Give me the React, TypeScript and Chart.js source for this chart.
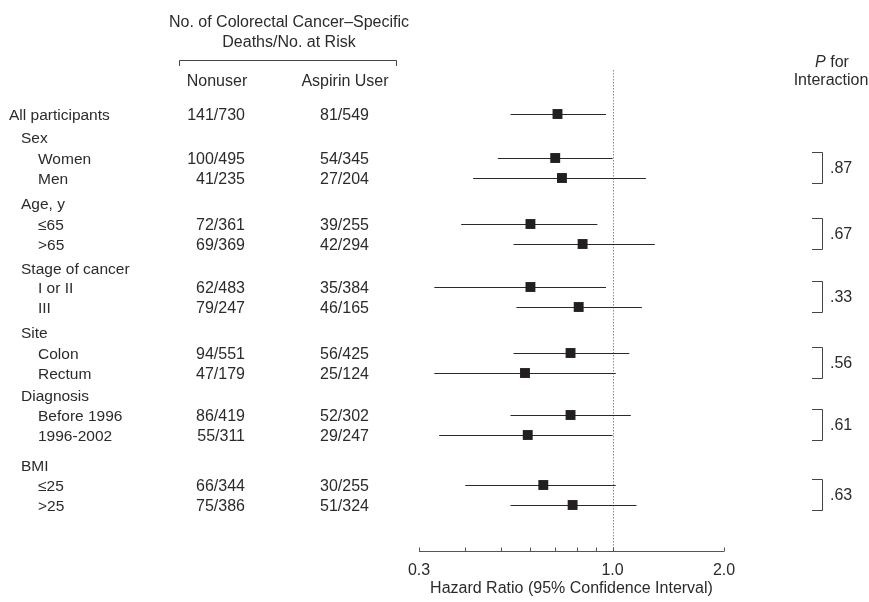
import React, { useEffect, useRef } from "react";
import { Chart, registerables } from "chart.js";

Chart.register(...registerables);

const rowLabels = [
  "All participants", "Sex", "Women", "Men", "Age, y", "≤65", ">65",
  "Stage of cancer", "I or II", "III", "Site", "Colon", "Rectum",
  "Diagnosis", "Before 1996", "1996-2002", "BMI", "≤25", ">25",
];
const rowLevels = [0, 1, 2, 2, 1, 2, 2, 1, 2, 2, 1, 2, 2, 1, 2, 2, 1, 2, 2];
const rowAdvance = [0, 1.15, 1.05, 1, 1.25, 1.05, 1, 1.2, 0.95, 1, 1.25, 1.05, 1, 1.1, 1, 1, 1.5, 1, 1];
const nonuserCounts = [
  "141/730", "", "100/495", "41/235", "", "72/361", "69/369", "", "62/483", "79/247",
  "", "94/551", "47/179", "", "86/419", "55/311", "", "66/344", "75/386",
];
const aspirinCounts = [
  "81/549", "", "54/345", "27/204", "", "39/255", "42/294", "", "35/384", "46/165",
  "", "56/425", "25/124", "", "52/302", "29/247", "", "30/255", "51/324",
];
const hazardRatio = [0.71, null, 0.70, 0.73, null, 0.60, 0.83, null, 0.60, 0.81, null, 0.77, 0.58, null, 0.77, 0.59, null, 0.65, 0.78];
const ciLower = [0.53, null, 0.49, 0.42, null, 0.39, 0.54, null, 0.33, 0.55, null, 0.54, 0.33, null, 0.53, 0.34, null, 0.40, 0.53];
const ciUpper = [0.96, null, 1.0, 1.23, null, 0.91, 1.30, null, 0.96, 1.20, null, 1.11, 1.02, null, 1.12, 1.0, null, 1.02, 1.16];
const interactionRows = [[2, 3], [5, 6], [8, 9], [11, 12], [14, 15], [17, 18]];
const interactionP = [".87", ".67", ".33", ".56", ".61", ".63"];
const tickValues = [0.3, 0.4, 0.5, 0.6, 0.7, 0.8, 0.9, 1.0, 2.0];
const tickLabels = ["0.3", "", "", "", "", "", "", "1.0", "2.0"];

const rowY: number[] = [];
rowAdvance.reduce((acc, v) => {
  const y = acc + v;
  rowY.push(y);
  return y;
}, 0);

const FONT = '"Liberation Sans", Arial, Helvetica, sans-serif';
const TEXT = "#2b2b2b";
const DY = 1.5; // visual centring of canvas text

const forestPlugin = {
  id: "forest",
  beforeDatasetsDraw(chart: any) {
    const { ctx, scales, chartArea } = chart;
    const xs = scales.x;
    const ys = scales.y;
    ctx.save();
    const x1 = Math.round(xs.getPixelForValue(1.0)) + 0.5;
    ctx.strokeStyle = "#8a8a8a";
    ctx.lineWidth = 1;
    ctx.setLineDash([1.5, 1.5]);
    ctx.beginPath();
    ctx.moveTo(x1, chartArea.top);
    ctx.lineTo(x1, chartArea.bottom);
    ctx.stroke();
    ctx.setLineDash([]);
    ctx.strokeStyle = "#2a2a2a";
    ctx.lineWidth = 1.2;
    for (let i = 0; i < rowLabels.length; i++) {
      if (ciLower[i] == null) continue;
      const y = Math.round(ys.getPixelForValue(rowY[i])) + 0.5;
      ctx.beginPath();
      ctx.moveTo(xs.getPixelForValue(ciLower[i]), y);
      ctx.lineTo(xs.getPixelForValue(ciUpper[i]), y);
      ctx.stroke();
    }
    ctx.restore();
  },
  afterDraw(chart: any) {
    const { ctx, scales, chartArea } = chart;
    const xs = scales.x;
    const ys = scales.y;
    ctx.save();
    ctx.fillStyle = TEXT;
    ctx.textBaseline = "middle";
    const indent = [9, 21, 38];
    for (let i = 0; i < rowLabels.length; i++) {
      const y = ys.getPixelForValue(rowY[i]) + DY;
      ctx.textAlign = "left";
      ctx.font = `15.5px ${FONT}`;
      ctx.fillText(rowLabels[i], indent[rowLevels[i]], y);
      ctx.textAlign = "right";
      ctx.font = `16px ${FONT}`;
      if (nonuserCounts[i]) ctx.fillText(nonuserCounts[i], 245, y);
      if (aspirinCounts[i]) ctx.fillText(aspirinCounts[i], 369, y);
    }
    ctx.font = `16px ${FONT}`;
    ctx.textAlign = "center";
    ctx.fillText("No. of Colorectal Cancer–Specific", 289, 21 + DY);
    ctx.fillText("Deaths/No. at Risk", 289, 41 + DY);
    ctx.fillText("Nonuser", 217, 80 + DY);
    ctx.fillText("Aspirin User", 345, 80 + DY);
    ctx.strokeStyle = "#444";
    ctx.lineWidth = 1;
    ctx.beginPath();
    ctx.moveTo(179.5, 66);
    ctx.lineTo(179.5, 60.5);
    ctx.lineTo(396.5, 60.5);
    ctx.lineTo(396.5, 66);
    ctx.stroke();
    ctx.textAlign = "left";
    ctx.font = `italic 16px ${FONT}`;
    const pw = ctx.measureText("P").width;
    ctx.font = `16px ${FONT}`;
    const fw = ctx.measureText(" for").width;
    const sx = 832 - (pw + fw) / 2;
    ctx.font = `italic 16px ${FONT}`;
    ctx.fillText("P", sx, 61 + DY);
    ctx.font = `16px ${FONT}`;
    ctx.fillText(" for", sx + pw, 61 + DY);
    ctx.textAlign = "center";
    ctx.fillText("Interaction", 831, 79 + DY);
    ctx.textAlign = "left";
    for (let k = 0; k < interactionRows.length; k++) {
      const yA = ys.getPixelForValue(rowY[interactionRows[k][0]]) - 6;
      const yB = ys.getPixelForValue(rowY[interactionRows[k][1]]) + 5;
      ctx.strokeStyle = "#444";
      ctx.beginPath();
      ctx.moveTo(812, Math.round(yA) + 0.5);
      ctx.lineTo(822.5, Math.round(yA) + 0.5);
      ctx.lineTo(822.5, Math.round(yB) + 0.5);
      ctx.lineTo(812, Math.round(yB) + 0.5);
      ctx.stroke();
      ctx.fillText(interactionP[k], 830, (yA + yB) / 2 + DY);
    }
    const ay = Math.round(chartArea.bottom) + 0.5;
    ctx.strokeStyle = "#555";
    ctx.lineWidth = 1;
    ctx.beginPath();
    ctx.moveTo(xs.getPixelForValue(tickValues[0]), ay);
    ctx.lineTo(xs.getPixelForValue(tickValues[tickValues.length - 1]), ay);
    for (const v of tickValues) {
      const x = Math.round(xs.getPixelForValue(v)) + 0.5;
      ctx.moveTo(x, ay);
      ctx.lineTo(x, ay - 4);
    }
    ctx.stroke();
    ctx.textAlign = "center";
    tickValues.forEach((v, i) => {
      if (tickLabels[i]) ctx.fillText(tickLabels[i], xs.getPixelForValue(v), 569 + DY);
    });
    ctx.fillText("Hazard Ratio (95% Confidence Interval)", (xs.left + xs.right) / 2, 587 + DY);
    ctx.restore();
  },
};

export default function App() {
  const ref = useRef<HTMLCanvasElement>(null);
  useEffect(() => {
    if (!ref.current) return;
    const points = hazardRatio
      .map((v, i) => (v == null ? null : { x: v, y: rowY[i] }))
      .filter((p) => p !== null);
    const chart = new Chart(ref.current, {
      type: "scatter",
      data: {
        datasets: [
          {
            data: points as any,
            pointStyle: "rect",
            pointRadius: 7,
            pointHoverRadius: 7,
            backgroundColor: "#231f20",
            borderWidth: 0,
          },
        ],
      },
      options: {
        animation: false,
        responsive: false,
        layout: { padding: { left: 419, right: 145, top: 70, bottom: 51 } },
        plugins: { legend: { display: false }, tooltip: { enabled: false } },
        scales: {
          x: { type: "logarithmic", min: 0.3, max: 2.0, display: false },
          y: { type: "linear", min: -2.2, max: 21.85, reverse: true, display: false },
        },
      },
      plugins: [forestPlugin],
    });
    return () => chart.destroy();
  }, []);
  return (
    <div style={{ position: "absolute", left: 0, top: 0, width: 869, height: 602, background: "#fff" }}>
      <canvas ref={ref} width={869} height={602} />
    </div>
  );
}
